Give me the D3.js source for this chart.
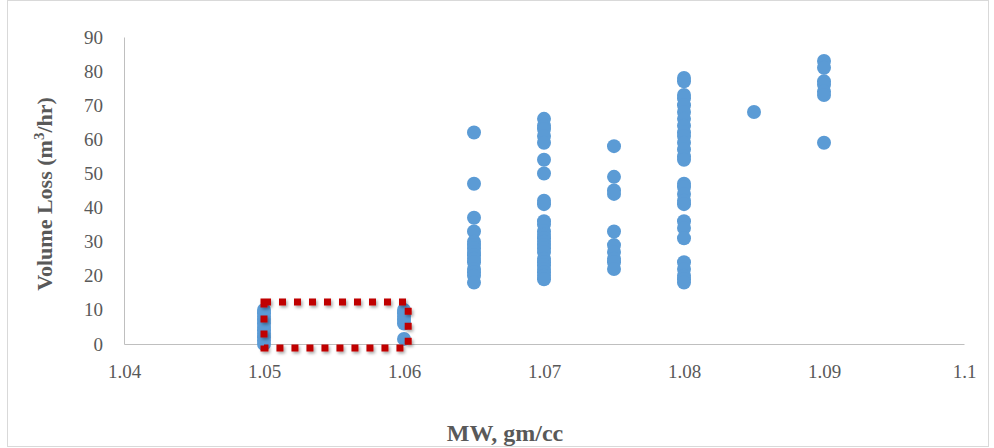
<!DOCTYPE html>
<html>
<head>
<meta charset="utf-8">
<script src="https://cdn.jsdelivr.net/npm/d3@7"></script>
<style>
  body { margin: 0; background: #fff; }
  text { font-family: "Liberation Serif", "Times New Roman", serif; }
</style>
</head>
<body>
<script>
const WIDTH = 994
const HEIGHT = 448

// data, one array per MW column
const mw1050 = [0, 1, 2, 3, 4, 5, 6, 7, 8, 9, 10]
const mw1060 = [1.5, 6, 7, 8, 9, 10]
const mw1065 = [62, 47, 37, 33, 30, 29, 28, 27, 26, 25, 24, 22, 21, 20, 18]
const mw1070 = [66, 64, 63, 61, 59, 54, 50, 42, 41, 36, 35, 33, 32, 31, 30, 29, 28, 27, 25, 24, 23, 22, 21, 20, 19]
const mw1075 = [58, 49, 45, 44, 33, 29, 27, 25, 24, 22]
const mw1080 = [78, 77, 73, 72, 70, 68, 66, 64, 62, 61, 59, 57, 55, 54, 47, 46, 44, 42, 41, 36, 34, 31, 24, 22, 20, 19, 18]
const mw1085 = [68]
const mw1090 = [83, 81, 77, 76, 74, 73, 59]

const columns = [
  [1.05, mw1050], [1.06, mw1060], [1.065, mw1065], [1.07, mw1070],
  [1.075, mw1075], [1.08, mw1080], [1.085, mw1085], [1.09, mw1090]
]
const xTicks = [1.04, 1.05, 1.06, 1.07, 1.08, 1.09, 1.1]
const yTicks = [0, 10, 20, 30, 40, 50, 60, 70, 80, 90]
// highlighted box (data units)
const boxX = [1.05, 1.0603]
const boxY = [-1.2, 12.3]

const points = []
columns.forEach(([x, vals]) => vals.forEach(v => points.push({ x: x, y: v })))

const svg = d3.select('body').append('svg')
  .attr('width', WIDTH)
  .attr('height', HEIGHT)

// outer frame
svg.append('rect')
  .attr('x', 7.5).attr('y', 0.5)
  .attr('width', 981).attr('height', 446)
  .attr('fill', 'none')
  .attr('stroke', '#d9d9d9')

const x = d3.scaleLinear().domain([1.04, 1.1]).range([124, 964])
const y = d3.scaleLinear().domain([0, 90]).range([344, 37])

// axes
const xAxis = svg.append('g')
  .attr('transform', `translate(0,${y(0)})`)
  .attr('font-size', 19)
  .attr('font-family', '"Liberation Serif", serif')
  .call(d3.axisBottom(x).tickValues(xTicks).tickSize(0).tickPadding(21)
    .tickFormat(d => String(+d.toFixed(2))))
xAxis.select('.domain').attr('stroke', '#bfbfbf')

const yAxis = svg.append('g')
  .attr('transform', `translate(${x(1.04)},0)`)
  .attr('font-size', 19)
  .attr('font-family', '"Liberation Serif", serif')
  .call(d3.axisLeft(y).tickValues(yTicks).tickSize(0).tickPadding(21))
yAxis.select('.domain').attr('stroke', '#bfbfbf')

svg.selectAll('.tick text')
  .attr('fill', '#595959')
  .attr('font-size', 19)
  .style('font-size', '19px')

// points
svg.append('g')
  .selectAll('circle')
  .data(points)
  .enter()
  .append('circle')
  .attr('cx', d => x(d.x))
  .attr('cy', d => y(d.y))
  .attr('r', 7)
  .attr('fill', '#5b9bd5')

// dotted red box
const defs = svg.append('defs')
const f = defs.append('filter').attr('id', 'shadow').attr('x', '-10%').attr('y', '-20%')
  .attr('width', '130%').attr('height', '150%')
f.append('feDropShadow').attr('dx', 1.5).attr('dy', 2).attr('stdDeviation', 1.5)
  .attr('flood-color', '#000').attr('flood-opacity', 0.35)

svg.append('rect')
  .attr('x', x(boxX[0]))
  .attr('y', y(boxY[1]))
  .attr('width', x(boxX[1]) - x(boxX[0]))
  .attr('height', y(boxY[0]) - y(boxY[1]))
  .attr('fill', 'none')
  .attr('stroke', '#c00000')
  .attr('stroke-width', 7)
  .attr('stroke-dasharray', '7,8')
  .attr('filter', 'url(#shadow)')

// axis titles
svg.append('text')
  .attr('x', 505)
  .attr('y', 441)
  .attr('text-anchor', 'middle')
  .attr('fill', '#595959')
  .style('font-size', '24px')
  .style('font-weight', 'bold')
  .text('MW, gm/cc')

const yTitle = svg.append('text')
  .attr('transform', 'translate(52,194) rotate(-90)')
  .attr('text-anchor', 'middle')
  .attr('fill', '#595959')
  .style('font-size', '22px')
  .style('font-weight', 'bold')
yTitle.append('tspan').text('Volume  Loss (m')
yTitle.append('tspan').attr('dy', -8).style('font-size', '15px').text('3')
yTitle.append('tspan').attr('dy', 8).text('/hr)')
</script>
</body>
</html>
